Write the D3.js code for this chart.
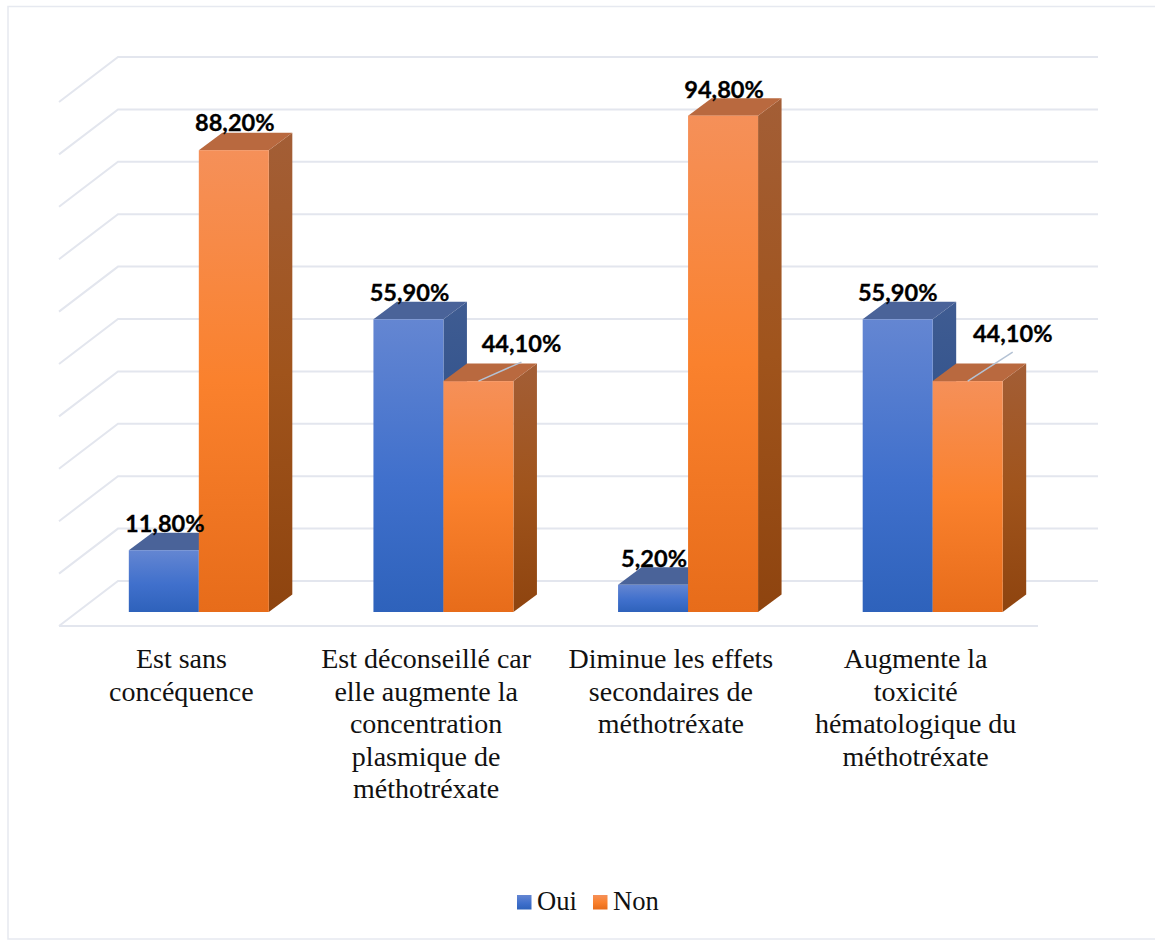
<!DOCTYPE html>
<html><head><meta charset="utf-8">
<script src="https://cdnjs.cloudflare.com/ajax/libs/d3/7.9.0/d3.min.js"></script>
<style>html,body{margin:0;padding:0;background:#fff;overflow:hidden}svg{display:block}</style></head>
<body><div id="chart"></div>
<script>
const categories = [
  ["Est sans","concéquence"],
  ["Est déconseillé car","elle augmente la","concentration","plasmique de","méthotréxate"],
  ["Diminue les effets","secondaires de","méthotréxate"],
  ["Augmente la","toxicité","hématologique du","méthotréxate"]
];
const seriesNames = ["Oui","Non"];
const oui = [11.8,55.9,5.2,55.9];
const non = [88.2,44.1,94.8,44.1];
const gridTicks = [0,10,20,30,40,50,60,70,80,90,100];
const labelNudgeOui = [[1,-27],[1,-27],[1,-27],[0,-27]];
const labelNudgeNon = [[1,-28],[43,-38],[1,-27],[45,-48]];
const leaderEnds = [null,[43,-19],null,[45,-29]];

const W=1155,H=940, depthX=23.5, depthY=17.5, floorDX=59, floorDY=45;
const svg=d3.select("#chart").append("svg").attr("width",W).attr("height",H)
  .attr("viewBox",[0,0,W,H]);
const defs=svg.append("defs");
function grad(id,stops){
  const g=defs.append("linearGradient").attr("id",id).attr("x1",0).attr("x2",0).attr("y1",0).attr("y2",1);
  stops.forEach(s=>g.append("stop").attr("offset",s[0]).attr("stop-color",s[1]));
}
grad("gBlue",[[0,"#6486d2"],[.55,"#4070cc"],[1,"#2e62bb"]]);
grad("gBlueSide",[[0,"#3f5c92"],[1,"#1f4583"]]);
grad("gOrange",[[0,"#f59059"],[.5,"#fa812d"],[1,"#e76c1a"]]);
grad("gOrangeSide",[[0,"#a35e36"],[.5,"#a0541c"],[1,"#8e440f"]]);
const colors={Oui:{f:"url(#gBlue)",s:"url(#gBlueSide)",t:"#4a6399"},
              Non:{f:"url(#gOrange)",s:"url(#gOrangeSide)",t:"#b9693f"}};

svg.append("rect").attr("x",8).attr("y",6.5).attr("width",1160).attr("height",932.5)
  .attr("fill","#fff").attr("stroke","#e6e9f0").attr("stroke-width",1.5);

// scales
const yBar=d3.scaleLinear().domain([0,100]).range([612,88.4]);
const yWall=d3.scaleLinear().domain([0,100]).range([581,57]);
const xFront=d3.scaleBand().domain(d3.range(4)).range([59,1038]);
const xBars=d3.scaleBand().domain(d3.range(4)).range([76.5,1055]);
const barW=70;

// gridlines + wall
const gridC="#e3e6ee";
const gg=svg.append("g").attr("fill","none").attr("stroke",gridC).attr("stroke-width",2);
gg.selectAll("path").data(gridTicks).join("path")
  .attr("d",d=>`M${floorDX},${yWall(d)+floorDY}L118,${yWall(d)}H1098`);
gg.append("line").attr("x1",floorDX).attr("x2",1038).attr("y1",yWall(0)+floorDY).attr("y2",yWall(0)+floorDY);

// bars
const bars=svg.append("g");
function bar(cx,val,c){
  const x0=cx, x1=cx+barW, yT=yBar(val), yB=yBar(0);
  const g=bars.append("g");
  g.append("path").attr("d",`M${x1},${yT}L${x1+depthX},${yT-depthY}V${yB-depthY}L${x1},${yB}Z`).attr("fill",c.s);
  g.append("path").attr("d",`M${x0},${yT}L${x0+depthX},${yT-depthY}H${x1+depthX}L${x1},${yT}Z`).attr("fill",c.t);
  g.append("rect").attr("x",x0).attr("y",yT).attr("width",barW).attr("height",yB-yT).attr("fill",c.f);
}
categories.forEach((c,i)=>{
  const mid=xBars(i)+xBars.bandwidth()/2;
  bar(mid-barW,oui[i],colors.Oui);
  bar(mid,non[i],colors.Non);
});

// leader lines
const ll=svg.append("g").attr("stroke","#b4c2d4").attr("stroke-width",1.5);
categories.forEach((c,i)=>{
  if(!leaderEnds[i])return;
  const mid=xBars(i)+xBars.bandwidth()/2;
  ll.append("line").attr("x1",mid+barW/2).attr("y1",yBar(non[i]))
    .attr("x2",mid+barW/2+leaderEnds[i][0]).attr("y2",yBar(non[i])+leaderEnds[i][1]);
});

// data labels
const fmt=v=>v.toFixed(2).replace(".",",")+"%";
const dl=svg.append("g").attr("font-family","Lato, 'Open Sans', sans-serif").attr("font-weight",700)
  .attr("font-size",23.6).attr("fill","#000").attr("stroke","#000").attr("stroke-width",0.3)
  .attr("text-anchor","middle").attr("dominant-baseline","central");
categories.forEach((c,i)=>{
  const mid=xBars(i)+xBars.bandwidth()/2;
  dl.append("text").attr("x",mid-barW/2+labelNudgeOui[i][0]).attr("y",yBar(oui[i])+labelNudgeOui[i][1]).text(fmt(oui[i]));
  dl.append("text").attr("x",mid+barW/2+labelNudgeNon[i][0]).attr("y",yBar(non[i])+labelNudgeNon[i][1]).text(fmt(non[i]));
});

// category labels
const cl=svg.append("g").attr("font-family","'Liberation Serif', serif").attr("font-size",28)
  .attr("fill","#111").attr("text-anchor","middle");
categories.forEach((lines,i)=>{
  const cx=xFront(i)+xFront.bandwidth()/2;
  lines.forEach((t,j)=>cl.append("text").attr("x",cx).attr("y",668+j*32.5).text(t));
});

// legend
const lg=svg.append("g").attr("font-family","'Liberation Serif', serif").attr("font-size",26.6).attr("fill","#111");
const legendX=d3.scaleOrdinal().domain(seriesNames).range([517,593]);
seriesNames.forEach(n=>{
  lg.append("rect").attr("x",legendX(n)).attr("y",895).attr("width",14.5).attr("height",14.5).attr("fill",colors[n].f);
  lg.append("text").attr("x",legendX(n)+20).attr("y",910).text(n);
});
</script></body></html>
